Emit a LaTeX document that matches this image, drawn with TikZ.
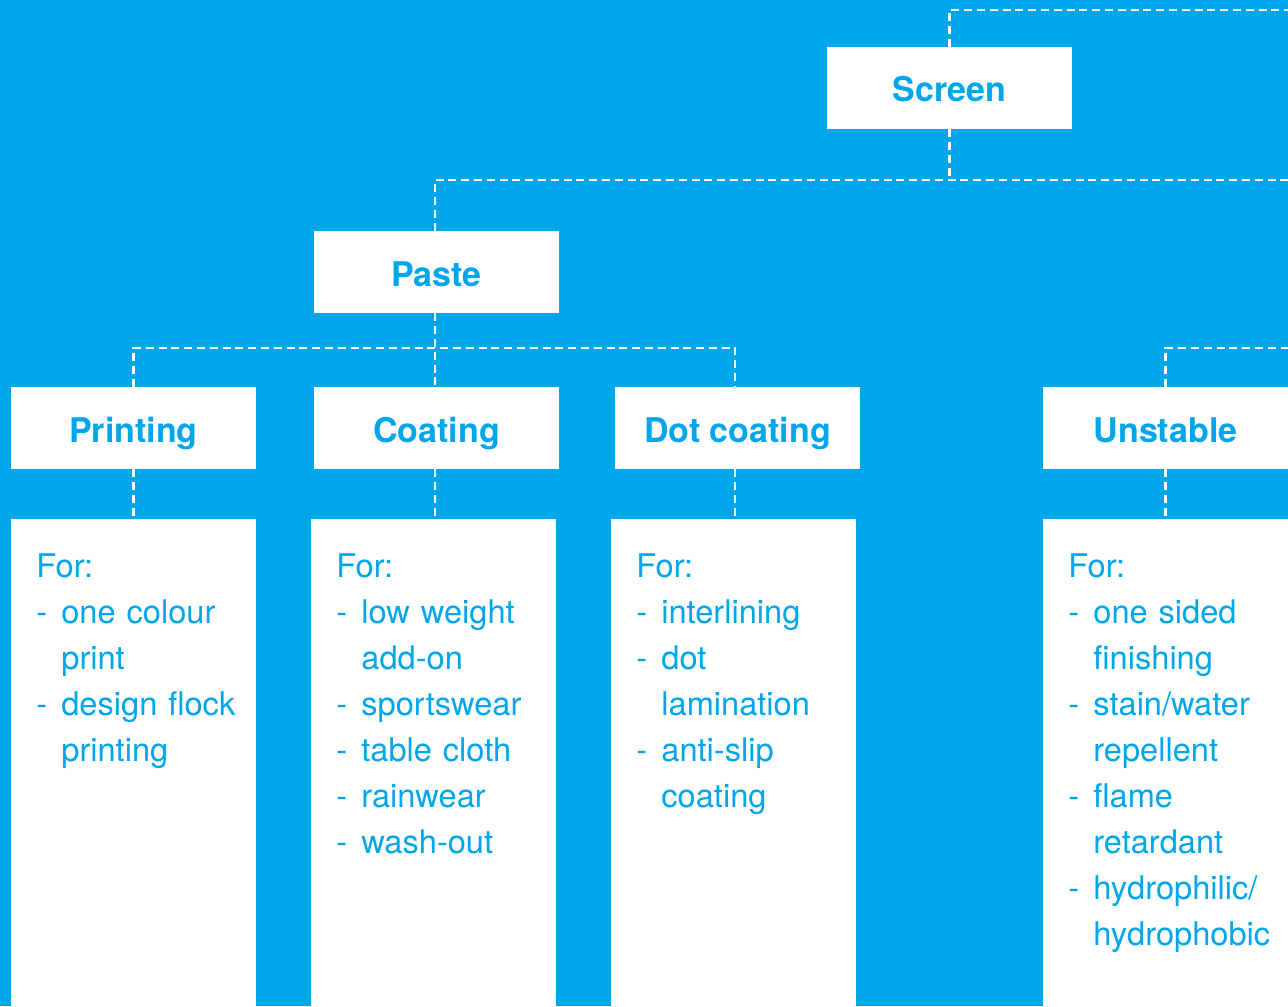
\documentclass[tikz,border=0pt]{standalone}
\usepackage{fontspec}
\setmainfont{TeX Gyre Heros}
\definecolor{skyblue}{HTML}{00A6EA}
\newcommand{\listdash}{\makebox[12.5pt][l]{-}}
\newcommand{\listgap}{\hspace*{12.5pt}}

\begin{document}
\begin{tikzpicture}[x=0.5pt,y=-0.5pt,
	head/.style={fill=white,minimum width=122.5pt,minimum height=41pt,inner sep=0pt,text height=14pt,text depth=0pt,text=skyblue,font=\fontsize{17}{20}\selectfont\bfseries},
	card/.style={fill=white,minimum width=122.5pt,minimum height=260pt,anchor=north west,inner sep=0pt},
	list/.style={anchor=north west,inner sep=0pt,text=skyblue,text width=112pt,align=left,font=\fontsize{16.3}{23}\selectfont},
	link/.style={white,line width=1.1pt,dash pattern=on 4pt off 2.4pt}]
	
	\useasboundingbox (0,0) rectangle (1288,1006);
	\fill[skyblue] (0,0) rectangle (1288,1006);
	\clip (0,0) rectangle (1288,1006);
	
	% headings
	\node[head] (screen) at (949.5,88) {Screen};
	\node[head] (paste) at (436.5,272) {Paste};
	\node[head] (printing) at (133.5,428) {Printing};
	\node[head] (coating) at (436.5,428) {Coating};
	\node[head] (dotcoating) at (737.5,428) {Dot coating};
	\node[head] (unstable) at (1165.5,428) {Unstable};
	
	% cards
	\node[card] (printcard) at (11,519) {};
	\node[card] (coatcard) at (311,519) {};
	\node[card] (dotcard) at (611,519) {};
	\node[card] (unstcard) at (1043,519) {};
	
	\node[list] (printlist) at ([shift={(25,34)}]printcard.north west) {For:\\\listdash one colour\\\listgap print\\\listdash design flock\\\listgap printing};
	\node[list] (coatlist) at ([shift={(25,34)}]coatcard.north west) {For:\\\listdash low weight\\\listgap add-on\\\listdash sportswear\\\listdash table cloth\\\listdash rainwear\\\listdash wash-out};
	\node[list] (dotlist) at ([shift={(25,34)}]dotcard.north west) {For:\\\listdash interlining\\\listdash dot\\\listgap lamination\\\listdash anti-slip\\\listgap coating};
	\node[list] (unstlist) at ([shift={(25,34)}]unstcard.north west) {For:\\\listdash one sided\\\listgap finishing\\\listdash stain/water\\\listgap repellent\\\listdash flame\\\listgap retardant\\\listdash hydrophilic/\\\listgap hydrophobic};
	
	% dashed links
	\coordinate (topright) at (1288,10);
	\coordinate (midright) at (1288,180);
	\coordinate (lowright) at (1288,348);
	
	\draw[link] (screen.north) |- (topright);
	\draw[link] ([xshift=-0.75pt]paste.north) |- (midright);
	\draw[link] (screen.south) -- (screen.south |- midright);
	
	\draw[link] (printing.north) -- ++(0,-39) -| ([xshift=-1.25pt]dotcoating.north);
	\draw[link] ([xshift=-0.75pt]paste.south) -- ([xshift=-0.75pt]coating.north);
	\draw[link] (unstable.north) |- (lowright);
	
	\draw[link] (printing.south) -- (printing.south |- printcard.north);
	\draw[link] ([xshift=-0.75pt]coating.south) -- ([xshift=-0.75pt]coating.south |- coatcard.north);
	\draw[link] ([xshift=-1.25pt]dotcoating.south) -- ([xshift=-1.25pt]dotcoating.south |- dotcard.north);
	\draw[link] (unstable.south) -- (unstable.south |- unstcard.north);
	
\end{tikzpicture}
\end{document}
